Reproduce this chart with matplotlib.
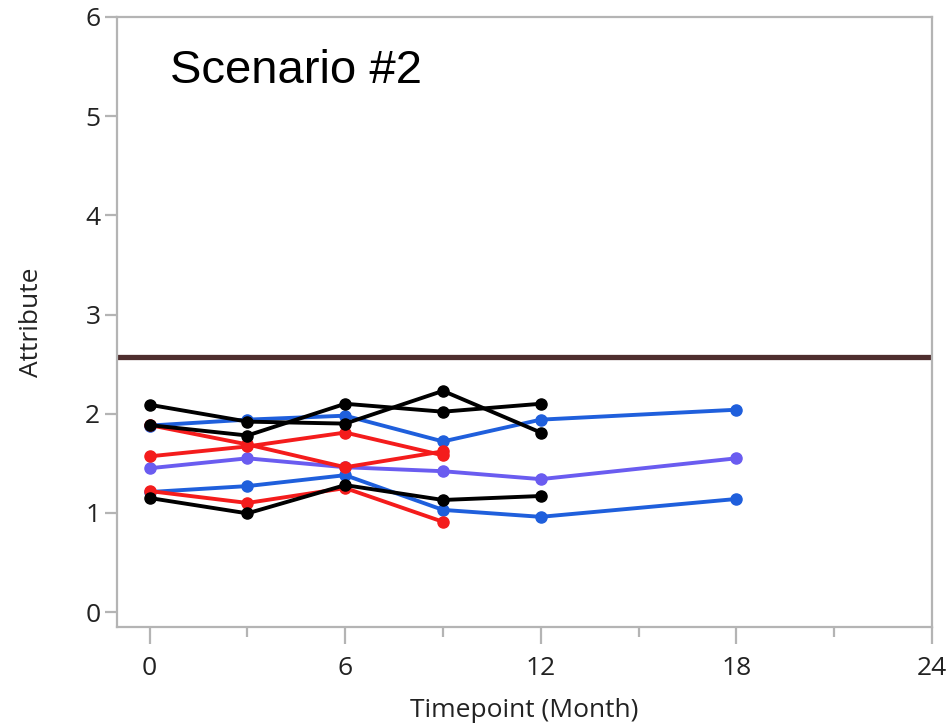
import matplotlib
matplotlib.use('Agg')
import matplotlib.pyplot as plt
from matplotlib.ticker import MultipleLocator

plt.rcParams['font.family'] = ['Open Sans', 'DejaVu Sans']

# timepoints (months)
t_long = [0, 3, 6, 9, 12, 18]
t_12 = [0, 3, 6, 9, 12]
t_9 = [0, 3, 6, 9]

# blue lots (to 18 months)
blue_1 = [1.88, 1.94, 1.98, 1.72, 1.94, 2.04]
blue_2 = [1.21, 1.27, 1.38, 1.03, 0.96, 1.14]
purple_1 = [1.45, 1.55, 1.46, 1.42, 1.34, 1.55]

# red lots (to 9 months)
red_1 = [1.885, 1.69, 1.46, 1.62]
red_2 = [1.57, 1.67, 1.81, 1.58]
red_3 = [1.22, 1.10, 1.25, 0.91]

# black lots (to 12 months)
black_1 = [2.09, 1.92, 1.90, 2.23, 1.81]
black_2 = [1.885, 1.78, 2.10, 2.02, 2.10]
black_3 = [1.15, 0.995, 1.28, 1.13, 1.17]

spec_limit = 2.575

fig = plt.figure(figsize=(9.53, 7.28), dpi=100)
ax = fig.add_axes([0.1228, 0.1387, 0.855, 0.838])

line_kw = dict(linewidth=2.8, marker='o', markersize=8)
ax.plot(t_long, blue_1, color='#1f5fdc', **line_kw)
ax.plot(t_long, blue_2, color='#1f5fdc', **line_kw)
ax.plot(t_long, purple_1, color='#6a5cf0', **line_kw)
for ys in [red_1, red_2, red_3]:
    ax.plot(t_9, ys, color='#f41c1c', **line_kw)
for ys in [black_1, black_2, black_3]:
    ax.plot(t_12, ys, color='black', **line_kw)

ax.axhline(spec_limit, color='#4e2e2e', linewidth=3.8)

ax.set_xlim(-1, 24)
ax.set_ylim(-0.151, 6)
ax.xaxis.set_major_locator(MultipleLocator(6))
ax.xaxis.set_minor_locator(MultipleLocator(3))
ax.yaxis.set_major_locator(MultipleLocator(1))

for s in ax.spines.values():
    s.set_color('#b4b4b4')
    s.set_linewidth(1.6)

ax.tick_params(axis='x', which='major', length=12, width=1.6, color='#b4b4b4',
               labelsize=19, labelcolor='#222222', pad=9)
ax.tick_params(axis='x', which='minor', length=7, width=1.6, color='#b4b4b4')
ax.tick_params(axis='y', which='major', length=9, width=1.6, color='#b4b4b4',
               labelsize=19, labelcolor='#222222', pad=3)

ax.set_xlabel('Timepoint (Month)', fontsize=19, color='#222222', labelpad=12)
ax.set_ylabel('Attribute', fontsize=19, color='#222222', labelpad=30)

ax.text(0.065, 0.948, 'Scenario #2', transform=ax.transAxes, ha='left', va='top',
        fontsize=34, family=['Liberation Sans', 'DejaVu Sans'], color='black')

fig.savefig('out.png', dpi=100)
